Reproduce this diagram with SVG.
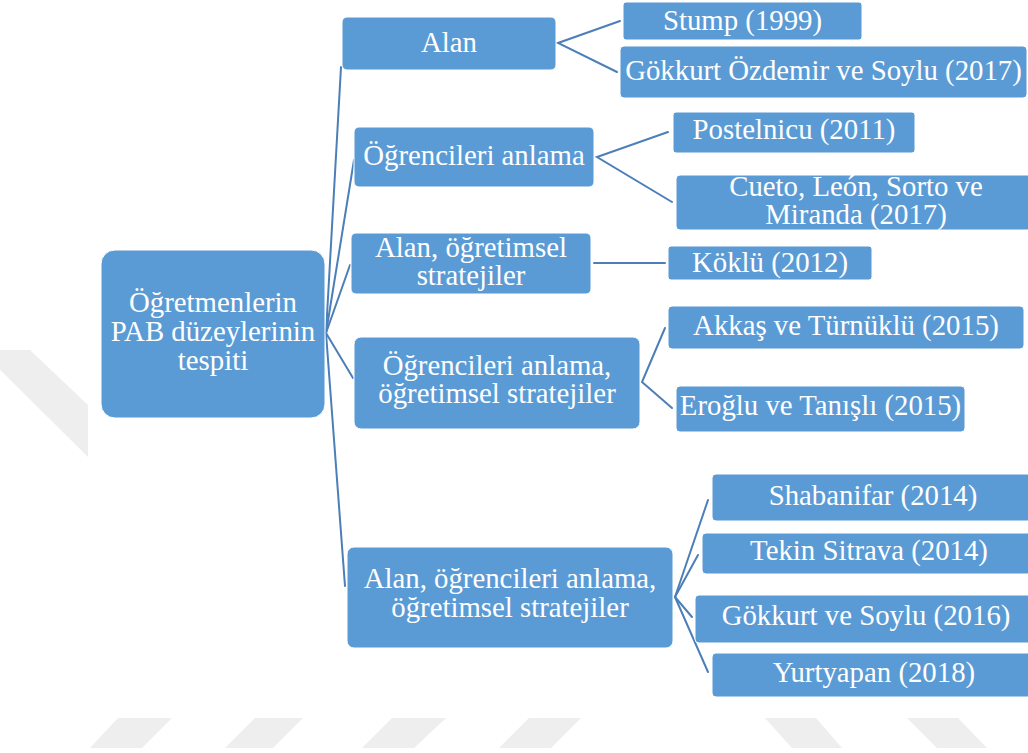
<svg xmlns="http://www.w3.org/2000/svg" width="1028" height="753" viewBox="0 0 1028 753">
  <style>
    .box { fill: #5b9bd5; stroke: #ffffff; stroke-width: 1; }
    .lbl { font-family: "Liberation Serif", "Times New Roman", serif; font-size: 28.8px; fill: #ffffff; text-anchor: middle; }
    .link { stroke: #4c7fb8; stroke-width: 2; fill: none; stroke-linecap: round; }
    .mark { fill: #eeeeee; }
  </style>

  <rect x="0" y="0" width="1028" height="753" fill="#ffffff"/>

  <!-- faint background stripes -->
  <g id="background-stripes">
    <polygon class="mark" points="-20,350 30,350 88,405 88,457"/>
    <polygon class="mark" points="118,718 172,718 142,748 90,748"/>
    <polygon class="mark" points="255,718 303,718 273,748 225,748"/>
    <polygon class="mark" points="392,718 446,718 414,748 362,748"/>
    <polygon class="mark" points="529,718 581,718 551,748 499,748"/>
    <polygon class="mark" points="765,718 816,718 842,748 792,748"/>
    <polygon class="mark" points="907,718 958,718 987,748 937,748"/>
  </g>

  <!-- connectors -->
  <g id="connectors">
    <line class="link" x1="326" y1="333" x2="341" y2="67"/>
    <line class="link" x1="326" y1="333" x2="354" y2="160"/>
    <line class="link" x1="326" y1="333" x2="350" y2="265"/>
    <line class="link" x1="326" y1="333" x2="353" y2="378"/>
    <line class="link" x1="326" y1="333" x2="345" y2="586"/>

    <polyline class="link" points="620,21 558,43 617,72"/>
    <polyline class="link" points="668,132 597,157 672,202"/>
    <line class="link" x1="594" y1="263" x2="665" y2="263"/>
    <polyline class="link" points="665,328 642,382 672,408"/>
    <line class="link" x1="675" y1="597" x2="708" y2="500"/>
    <line class="link" x1="675" y1="597" x2="698" y2="555"/>
    <line class="link" x1="675" y1="597" x2="692" y2="617"/>
    <line class="link" x1="675" y1="597" x2="708" y2="672"/>
  </g>

  <!-- root -->
  <g id="node-root">
    <rect class="box" x="101" y="250" width="224" height="168" rx="14"/>
    <text class="lbl" x="213" y="312">Öğretmenlerin</text>
    <text class="lbl" x="213" y="341">PAB düzeylerinin</text>
    <text class="lbl" x="213" y="370">tespiti</text>
  </g>

  <!-- first level -->
  <g id="node-alan">
    <rect class="box" x="342" y="17" width="214" height="53" rx="5"/>
    <text class="lbl" x="449" y="52">Alan</text>
  </g>
  <g id="node-ogrencileri-anlama">
    <rect class="box" x="354" y="127" width="240" height="60" rx="5"/>
    <text class="lbl" x="474" y="165">Öğrencileri anlama</text>
  </g>
  <g id="node-alan-ogretimsel">
    <rect class="box" x="351" y="233" width="240" height="61" rx="5"/>
    <text class="lbl" x="471" y="257">Alan, öğretimsel</text>
    <text class="lbl" x="471" y="285">stratejiler</text>
  </g>
  <g id="node-anlama-ogretimsel">
    <rect class="box" x="354" y="337" width="286" height="92" rx="7"/>
    <text class="lbl" x="497" y="375">Öğrencileri anlama,</text>
    <text class="lbl" x="497" y="403">öğretimsel stratejiler</text>
  </g>
  <g id="node-alan-anlama-ogretimsel">
    <rect class="box" x="347" y="547" width="326" height="101" rx="7"/>
    <text class="lbl" x="510" y="588">Alan, öğrencileri anlama,</text>
    <text class="lbl" x="510" y="617">öğretimsel stratejiler</text>
  </g>

  <!-- second level -->
  <g id="node-stump">
    <rect class="box" x="623" y="2" width="239" height="38" rx="3"/>
    <text class="lbl" x="742.5" y="30">Stump (1999)</text>
  </g>
  <g id="node-gokkurt-ozdemir">
    <rect class="box" x="620" y="46" width="407" height="52" rx="4"/>
    <text class="lbl" x="823.5" y="80">Gökkurt Özdemir ve Soylu (2017)</text>
  </g>
  <g id="node-postelnicu">
    <rect class="box" x="673" y="112" width="242" height="41" rx="3"/>
    <text class="lbl" x="794" y="139">Postelnicu (2011)</text>
  </g>
  <g id="node-cueto">
    <rect class="box" x="676" y="175" width="360" height="55" rx="4"/>
    <text class="lbl" x="856" y="196">Cueto, León, Sorto ve</text>
    <text class="lbl" x="856" y="224">Miranda (2017)</text>
  </g>
  <g id="node-koklu">
    <rect class="box" x="668" y="246" width="204" height="34" rx="3"/>
    <text class="lbl" x="770" y="272">Köklü (2012)</text>
  </g>
  <g id="node-akkas">
    <rect class="box" x="668" y="306" width="356" height="43" rx="4"/>
    <text class="lbl" x="846" y="335">Akkaş ve Türnüklü (2015)</text>
  </g>
  <g id="node-eroglu">
    <rect class="box" x="676" y="386" width="289" height="46" rx="4"/>
    <text class="lbl" x="820.5" y="415">Eroğlu ve Tanışlı (2015)</text>
  </g>
  <g id="node-shabanifar">
    <rect class="box" x="712" y="474" width="324" height="47" rx="4"/>
    <text class="lbl" x="873" y="505">Shabanifar (2014)</text>
  </g>
  <g id="node-tekin-sitrava">
    <rect class="box" x="702" y="533" width="334" height="41" rx="4"/>
    <text class="lbl" x="869" y="560">Tekin Sitrava (2014)</text>
  </g>
  <g id="node-gokkurt-soylu">
    <rect class="box" x="695" y="595" width="341" height="48" rx="4"/>
    <text class="lbl" x="866" y="625">Gökkurt ve Soylu (2016)</text>
  </g>
  <g id="node-yurtyapan">
    <rect class="box" x="712" y="653" width="324" height="44" rx="4"/>
    <text class="lbl" x="874" y="682">Yurtyapan (2018)</text>
  </g>
</svg>
